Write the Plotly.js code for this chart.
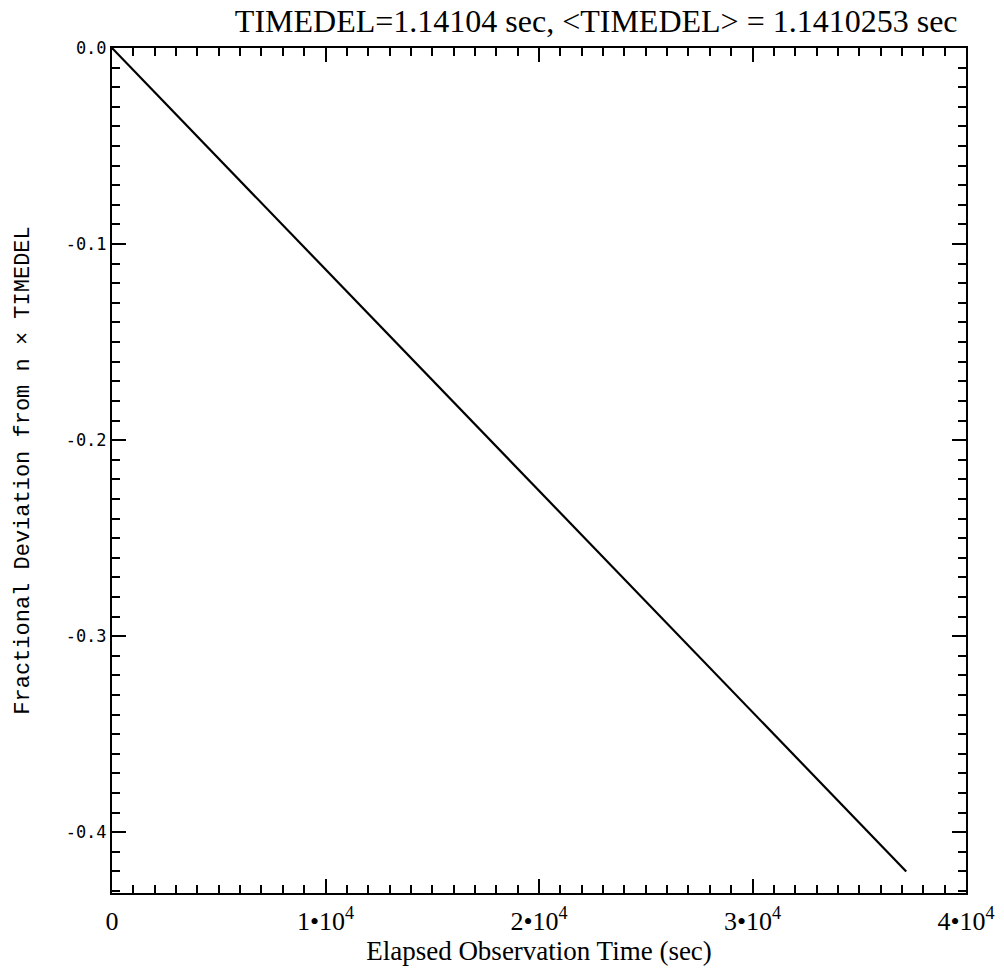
<!DOCTYPE html>
<html>
<head>
<meta charset="utf-8">
<script src="https://cdn.plot.ly/plotly-3.0.1.min.js"></script>
<style>html,body{margin:0;padding:0;background:#fff;}#chart{width:1004px;height:972px;}</style>
</head>
<body>
<div id="chart"></div>
<script>
// Elapsed observation time (sec) and fractional deviation
const elapsedTime = [0, 5000, 10000, 15000, 20000, 25000, 30000, 35000, 37200];
const fracDeviation = [0, -0.0565, -0.113, -0.1695, -0.226, -0.2825, -0.339, -0.395, -0.420];

const xTickVals = [0, 10000, 20000, 30000, 40000];
const xTickText = ["0", "1•10<sup>4</sup>", "2•10<sup>4</sup>", "3•10<sup>4</sup>", "4•10<sup>4</sup>"];
const yTickVals = [0, -0.1, -0.2, -0.3, -0.4];
const yTickText = ["0.0", "-0.1", "-0.2", "-0.3", "-0.4"];

const titleText = "TIMEDEL=1.14104 sec, &lt;TIMEDEL&gt; = 1.1410253 sec";
const xTitle = "Elapsed Observation Time (sec)";
const yTitle = "Fractional Deviation from n × TIMEDEL";

const trace = {
  x: elapsedTime,
  y: fracDeviation,
  type: 'scatter',
  mode: 'lines',
  line: {color: '#000', width: 2.2},
  hoverinfo: 'skip'
};

const axisCommon = {
  showline: true,
  linecolor: '#000',
  linewidth: 2,
  mirror: 'allticks',
  ticks: 'inside',
  tickcolor: '#000',
  tickwidth: 2,
  ticklen: 14,
  showgrid: false,
  zeroline: false,
  tickmode: 'array'
};

const layout = {
  width: 1004,
  height: 972,
  paper_bgcolor: '#fff',
  plot_bgcolor: '#fff',
  showlegend: false,
  margin: {l: 112, r: 38, t: 48, b: 79},
  title: {
    text: titleText,
    font: {family: 'Liberation Serif, serif', size: 32, color: '#000'},
    x: 0.567, xanchor: 'center', xref: 'paper',
    y: 0.979, yanchor: 'middle', yref: 'container'
  },
  xaxis: Object.assign({}, axisCommon, {
    range: [0, 40000],
    tickvals: xTickVals,
    ticktext: xTickText,
    tickfont: {family: 'Liberation Serif, serif', size: 26, color: '#000'},
    ticklabelstandoff: 4,
    minor: {dtick: 1000, ticks: 'inside', ticklen: 8, tickwidth: 2, tickcolor: '#000', tick0: 0},
    title: {text: xTitle, font: {family: 'Liberation Serif, serif', size: 27, color: '#000'}, standoff: 4}
  }),
  yaxis: Object.assign({}, axisCommon, {
    range: [-0.431, 0],
    tickvals: yTickVals,
    ticktext: yTickText,
    tickfont: {family: 'DejaVu Sans Mono, monospace', size: 17, color: '#000'},
    minor: {dtick: 0.01, ticks: 'inside', ticklen: 8, tickwidth: 2, tickcolor: '#000', tick0: 0},
    title: {text: yTitle, font: {family: 'Liberation Mono, monospace', size: 22, color: '#000'}, standoff: 30}
  })
};

Plotly.newPlot('chart', [trace], layout, {displayModeBar: false, staticPlot: true});
</script>
</body>
</html>
